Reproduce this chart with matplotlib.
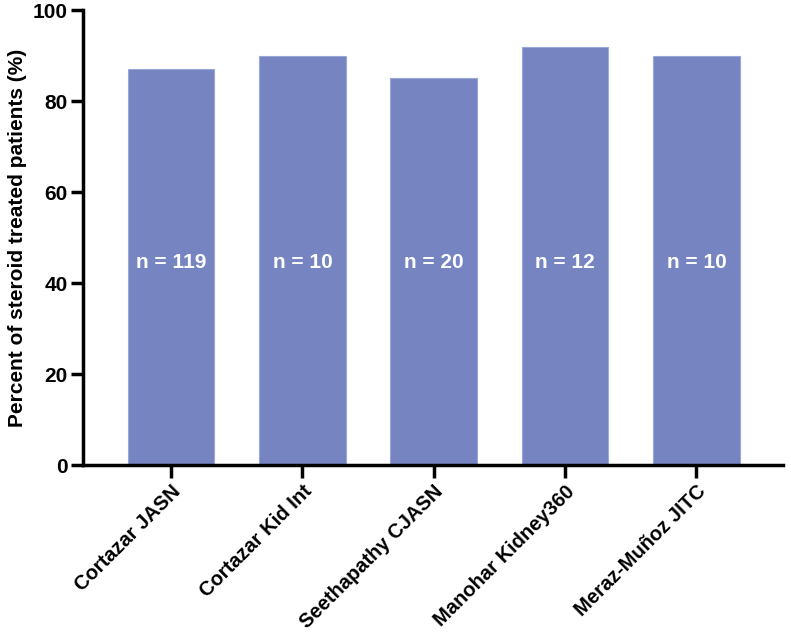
import matplotlib
matplotlib.use("Agg")
import matplotlib.pyplot as plt

studies = ["Cortazar JASN", "Cortazar Kid Int", "Seethapathy CJASN",
           "Manohar Kidney360", "Meraz-Muñoz JITC"]
percent = [87, 90, 85, 92, 90]
n_labels = ["n = 119", "n = 10", "n = 20", "n = 12", "n = 10"]
yticks = [0, 20, 40, 60, 80, 100]

plt.rcParams['font.family'] = ['Liberation Sans', 'DejaVu Sans']
plt.rcParams['font.weight'] = 'bold'

fig = plt.figure(figsize=(7.91, 6.38), dpi=100)
ax = fig.add_axes([0.105, 0.271, 0.885, 0.713])

x = list(range(len(studies)))
ax.bar(x, percent, width=0.66, color='#7685c1', edgecolor='#9aa6d6', linewidth=0.8)
for xi, lab in zip(x, n_labels):
    ax.text(xi, 44.5, lab, color='white', ha='center', va='center',
            fontsize=15, fontweight='bold')

ax.set_xlim(-0.67, 4.66)
ax.set_ylim(0, 100)
ax.set_yticks(yticks)
ax.set_yticklabels([str(v) for v in yticks], fontsize=15, fontweight='bold')
ax.set_xticks(x)
ax.set_xticklabels(studies, rotation=45, ha='right', rotation_mode='anchor',
                   fontsize=14.5, fontweight='bold')
ax.set_ylabel("Percent of steroid treated patients (%)", fontsize=15,
              fontweight='bold', labelpad=4)

for s in ['top', 'right']:
    ax.spines[s].set_visible(False)
for s in ['left', 'bottom']:
    ax.spines[s].set_linewidth(2.5)
ax.spines['left'].set_bounds(0, 100)
ax.tick_params(axis='both', width=2.5, length=9, direction='out', pad=2)
ax.tick_params(axis='x', pad=3)

fig.savefig("out.png", dpi=100)
